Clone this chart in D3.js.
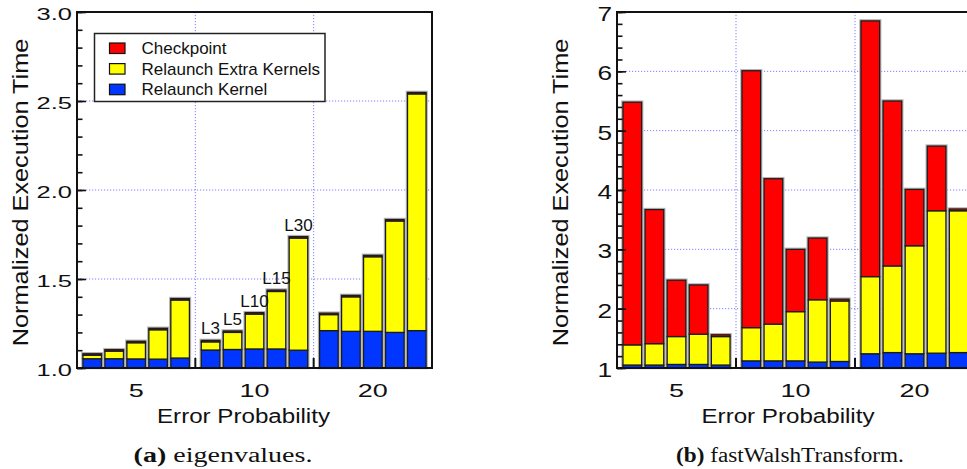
<!DOCTYPE html>
<html><head><meta charset="utf-8">
<script src="https://cdn.jsdelivr.net/npm/d3@7"></script>
<style>body{margin:0;background:#fff}svg{display:block}</style>
</head><body>
<svg id="c" width="967" height="469"></svg>
<script>
// ---------- data ----------
const groups = ["5", "10", "20"];
const levels = ["L3", "L5", "L10", "L15", "L30"];
const seriesNames = ["Checkpoint", "Relaunch Extra Kernels", "Relaunch Kernel"];
const seriesColors = ["#ff0000", "#ffff00", "#0036ff"];

// (a) eigenvalues : one row per error probability, one value per level
const eigKernel = [
  [1.052, 1.052, 1.051, 1.050, 1.056],
  [1.101, 1.104, 1.107, 1.107, 1.100],
  [1.210, 1.206, 1.206, 1.200, 1.210]];
const eigExtra = [
  [0.020, 0.043, 0.091, 0.165, 0.326],
  [0.046, 0.096, 0.196, 0.323, 0.630],
  [0.090, 0.194, 0.419, 0.626, 1.330]];
const eigCheckpoint = [
  [0.008, 0.008, 0.008, 0.008, 0.008],
  [0.008, 0.008, 0.008, 0.008, 0.008],
  [0.008, 0.008, 0.008, 0.008, 0.008]];
const eigMajorTicks = [1.0, 1.5, 2.0, 2.5, 3.0];

// (b) fastWalshTransform
const fwtKernel = [
  [1.05, 1.05, 1.06, 1.06, 1.05],
  [1.12, 1.12, 1.12, 1.10, 1.11],
  [1.24, 1.26, 1.24, 1.25, 1.26]];
const fwtExtra = [
  [0.34, 0.36, 0.47, 0.51, 0.48],
  [0.56, 0.62, 0.83, 1.05, 1.02],
  [1.30, 1.46, 1.82, 2.40, 2.39]];
const fwtCheckpoint = [
  [4.09, 2.26, 0.95, 0.83, 0.03],
  [4.33, 2.45, 1.05, 1.04, 0.03],
  [4.31, 2.78, 0.95, 1.09, 0.03]];
const fwtMajorTicks = [1, 2, 3, 4, 5, 6, 7];

const yTitle = "Normalized Execution Time";
const xTitle = "Error Probability";

// ---------- drawing ----------
const svg = d3.select("#c");
const SANS = "'Liberation Sans', Arial, Helvetica, sans-serif";
const SERIF = "'Liberation Serif', 'Times New Roman', serif";
const GRID = "#7f7fff";

function drawChart(o) {
  const g = svg.append("g");
  const y = d3.scaleLinear().domain(o.domain).range([o.yBot, o.yTop]);
  const xg = d3.scaleBand().domain(groups).range([o.x0, o.x1]);
  const xl = d3.scaleBand().domain(levels).range([0, xg.bandwidth()])
    .paddingInner(0.155).paddingOuter(0.27);

  // grid
  g.append("g").selectAll("line")
    .data(o.majors.filter(v => v > o.domain[0] && v < o.domain[1])).join("line")
    .attr("x1", o.x0).attr("x2", o.x1)
    .attr("y1", d => y(d)).attr("y2", d => y(d))
    .attr("stroke", GRID).attr("stroke-width", 1).attr("stroke-dasharray", "1.2,1.8");
  g.append("g").selectAll("line").data(groups.slice(1)).join("line")
    .attr("x1", d => xg(d)).attr("x2", d => xg(d))
    .attr("y1", o.yTop).attr("y2", o.yBot)
    .attr("stroke", GRID).attr("stroke-width", 1).attr("stroke-dasharray", "1.2,1.8");

  // bars
  const rows = [];
  groups.forEach((gr, i) => levels.forEach((lv, j) => rows.push({
    group: gr, level: lv, k: o.kernel[i][j], e: o.extra[i][j], c: o.check[i][j]
  })));
  const stack = d3.stack().keys(["k", "e", "c"])(rows);
  const colorOf = {k: seriesColors[2], e: seriesColors[1], c: seriesColors[0]};
  const bx = d => xg(d.group) + xl(d.level);
  const bw = xl.bandwidth();
  const lo = v => Math.max(v, o.domain[0]);

  // halo
  g.append("g").selectAll("rect").data(rows).join("rect")
    .attr("x", d => bx(d) - 0.5).attr("width", bw + 1)
    .attr("y", d => y(d.k + d.e + d.c) - 0.5)
    .attr("height", d => o.yBot - y(d.k + d.e + d.c) + 0.5)
    .attr("fill", "none").attr("stroke", "#b4b4b4").attr("stroke-width", 2.5);

  stack.forEach(s => {
    g.append("g").selectAll("rect").data(s).join("rect")
      .attr("x", d => bx(d.data)).attr("width", bw)
      .attr("y", d => y(d[1]))
      .attr("height", d => Math.max(0, y(lo(d[0])) - y(d[1])))
      .attr("fill", colorOf[s.key])
      .attr("stroke", "#1c1c1c").attr("stroke-width", 1.3);
  });

  // level labels
  if (o.labelGroup) {
    g.append("g").selectAll("text").data(rows.filter(d => d.group === o.labelGroup)).join("text")
      .attr("x", d => bx(d) + bw / 2).attr("y", d => y(d.k + d.e + d.c) - 6)
      .attr("text-anchor", "middle").attr("font-family", SANS).attr("font-size", 17)
      .attr("fill", "#111").text(d => d.level);
  }

  // frame
  g.append("rect").attr("x", o.x0).attr("y", o.yTop)
    .attr("width", o.x1 - o.x0).attr("height", o.yBot - o.yTop)
    .attr("fill", "none").attr("stroke", "#111").attr("stroke-width", 2);

  // minor ticks
  const minor = d3.axisLeft(y).tickValues(d3.range(o.domain[0], o.domain[1] + 1e-9, o.minorStep))
    .tickSize(-5.5).tickFormat("");
  const gm = g.append("g").attr("transform", `translate(${o.x0},0)`).call(minor);
  gm.select(".domain").remove();
  gm.selectAll("line").attr("stroke", "#111").attr("stroke-width", 1.6);

  // major ticks + labels
  const major = d3.axisLeft(y).tickValues(o.majors).tickSize(-9).tickPadding(5).tickFormat(o.fmt);
  const ga = g.append("g").attr("transform", `translate(${o.x0},0)`).call(major);
  ga.select(".domain").remove();
  ga.selectAll("line").attr("stroke", "#111").attr("stroke-width", 1.6);
  ga.attr("font-family", SANS).attr("font-size", o.ytSize);
  ga.selectAll("text").attr("fill", "#111").attr("x", 0).attr("dy", "0.36em")
    .attr("transform", `translate(-5,1) scale(${o.ytScale},1)`);

  // x axis labels
  const xa = d3.axisBottom(xg).tickSize(0).tickPadding(0);
  const gx = g.append("g").attr("transform", `translate(0,${o.yBot})`).call(xa);
  gx.select(".domain").remove();
  gx.attr("font-family", SANS).attr("font-size", 19);
  gx.selectAll("text").attr("fill", "#111").attr("y", 0).attr("dy", 0)
    .attr("transform", "translate(0,29) scale(1.42,1)");
  // group boundary ticks on the bottom axis
  g.append("g").selectAll("line").data(groups.slice(1)).join("line")
    .attr("x1", d => xg(d)).attr("x2", d => xg(d))
    .attr("y1", o.yBot).attr("y2", o.yBot - 10)
    .attr("stroke", "#111").attr("stroke-width", 2);

  // titles
  g.append("text").attr("transform", `translate(${o.x0 - 49},${(o.yTop + o.yBot) / 2 + 2.5}) rotate(-90) scale(1.15,1)`)
    .attr("text-anchor", "middle").attr("font-family", SANS).attr("font-size", 22)
    .attr("fill", "#111").text(yTitle);
  g.append("text").attr("transform", `translate(${o.xTitleX},422.5) scale(1.15,1)`)
    .attr("text-anchor", "middle").attr("font-family", SANS).attr("font-size", 21)
    .attr("fill", "#111").text(xTitle);

  // caption
  const cap = g.append("text").attr("transform", `translate(${o.capX},461.5) scale(${o.capScale},1)`)
    .attr("text-anchor", "middle").attr("font-family", SERIF).attr("font-size", 20).attr("fill", "#111");
  cap.append("tspan").attr("font-weight", "bold").text(o.capBold);
  cap.append("tspan").text(" " + o.capText);
}

drawChart({
  x0: 77, x1: 432, yTop: 12, yBot: 368, domain: [1, 3], majors: eigMajorTicks, minorStep: 0.1,
  kernel: eigKernel, extra: eigExtra, check: eigCheckpoint,
  fmt: d3.format(".1f"), ytSize: 17, ytScale: 1.5, labelGroup: "10",
  xTitleX: 243.5, capX: 223, capScale: 1.4, capBold: "(a)", capText: "eigenvalues."
});
drawChart({
  x0: 617, x1: 974, yTop: 12, yBot: 368, domain: [1, 7], majors: fwtMajorTicks, minorStep: 0.2,
  kernel: fwtKernel, extra: fwtExtra, check: fwtCheckpoint,
  fmt: d3.format("d"), ytSize: 21, ytScale: 1.25, labelGroup: null,
  xTitleX: 788, capX: 790, capScale: 1.16, capBold: "(b)", capText: "fastWalshTransform."
});

// legend (left chart)
const lg = svg.append("g");
lg.append("rect").attr("x", 94.5).attr("y", 33.5).attr("width", 230.5).attr("height", 68)
  .attr("fill", "#fff").attr("stroke", "#222").attr("stroke-width", 1.5);
const li = lg.selectAll("g.it").data(seriesNames).join("g").attr("class", "it")
  .attr("transform", (d, i) => `translate(0,${i * 20.6})`);
li.append("rect").attr("x", 109.5).attr("y", 43).attr("width", 15.5).attr("height", 10.5)
  .attr("fill", (d, i) => seriesColors[i]).attr("stroke", "#111").attr("stroke-width", 1.2);
li.append("text").attr("x", 141.5).attr("y", 54.3).attr("font-family", SANS).attr("font-size", 17)
  .attr("fill", "#111").text(d => d);
</script>
</body></html>
